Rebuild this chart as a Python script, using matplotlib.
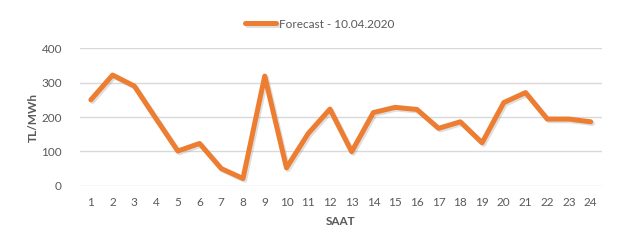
import matplotlib
matplotlib.use("Agg")
import matplotlib.pyplot as plt
import matplotlib.patheffects as pe

# data
hours = list(range(1, 25))
forecast = [250, 322, 290, 195, 101, 123, 50, 21, 319, 52, 152, 223,
            99, 213, 228, 222, 167, 186, 125, 242, 271, 194, 194, 186]
yticks = [0, 100, 200, 300, 400]

plt.rcParams["font.family"] = ["Lato", "DejaVu Sans"]
text_col = "#595959"

fig = plt.figure(figsize=(6.4, 2.4), dpi=100)
ax = fig.add_axes([0.125, 0.226, 0.815, 0.573])

ax.plot(hours, forecast, color="#ED7D31", lw=3.6, solid_joinstyle="round",
        solid_capstyle="round", label="Forecast - 10.04.2020",
        path_effects=[pe.SimpleLineShadow(offset=(1.2, -1.2), shadow_color="gray", alpha=0.25),
                      pe.Normal()])

ax.set_xlim(0.5, 24.5)
ax.set_ylim(0, 400)
ax.set_xticks(hours)
ax.set_yticks(yticks)
ax.tick_params(length=0, labelsize=8.5, labelcolor=text_col, pad=8)
ax.tick_params(axis="y", pad=13)
ax.grid(axis="y", color="#D9D9D9", lw=1)
ax.set_axisbelow(True)
for s in ax.spines.values():
    s.set_visible(False)

ax.set_ylabel("TL/MWh", fontsize=8.5, fontweight="bold", color=text_col, labelpad=2)
ax.set_xlabel("SAAT", fontsize=8.5, fontweight="bold", color=text_col, labelpad=6)

fig.legend(loc="center", bbox_to_anchor=(0.5, 0.9), frameon=False, fontsize=8.5,
           labelcolor=text_col, handlelength=2.6, handletextpad=0.3)

fig.savefig("out.png", dpi=100)
